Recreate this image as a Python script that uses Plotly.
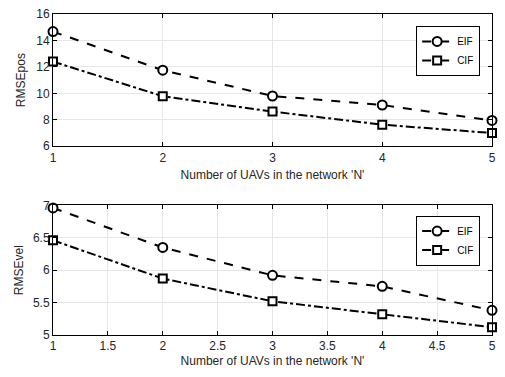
import plotly.graph_objects as go
from plotly.subplots import make_subplots

n_uavs = [1, 2, 3, 4, 5]
eif_pos = [14.67, 11.75, 9.8, 9.12, 7.95]
cif_pos = [12.4, 9.78, 8.62, 7.63, 7.0]
eif_vel = [6.96, 6.35, 5.92, 5.75, 5.38]
cif_vel = [6.46, 5.87, 5.52, 5.32, 5.12]

fig = make_subplots(rows=2, cols=1, vertical_spacing=0.0)

font = dict(family="Liberation Sans, Arial, sans-serif", size=11, color="#262626")

def add(x, y, name, dash, symbol, size, row, legend):
    fig.add_trace(go.Scatter(
        x=x, y=y, name=name, mode="lines+markers", cliponaxis=False,
        line=dict(color="black", width=2, dash=dash),
        marker=dict(symbol=symbol, size=size, color="white",
                    line=dict(color="black", width=2)),
        legend=legend, showlegend=True), row=row, col=1)

add(n_uavs, eif_pos, "EIF", "dash", "circle", 9, 1, "legend")
add(n_uavs, cif_pos, "CIF", "dashdot", "square", 8, 1, "legend")
add(n_uavs, eif_vel, "EIF", "dash", "circle", 9, 2, "legend2")
add(n_uavs, cif_vel, "CIF", "dashdot", "square", 8, 2, "legend2")

axcommon = dict(showline=True, linecolor="black", linewidth=1, mirror="ticks",
                ticks="inside", ticklen=4, tickcolor="black",
                showgrid=True, gridcolor="#e6e6e6", gridwidth=1,
                zeroline=False, tickfont=dict(size=12, color="#262626"))

fig.update_xaxes(**axcommon)
fig.update_yaxes(**axcommon)

xt = "Number of UAVs in the network 'N'"
tf = dict(size=12, color="#262626")
fig.update_xaxes(range=[0.9999, 5.0001], tickvals=[1, 2, 3, 4, 5], ticktext=["1", "2", "3", "4", "5"],
                 title=dict(text=xt, font=tf, standoff=6), row=1, col=1)
fig.update_xaxes(range=[0.9999, 5.0001], tickvals=[1, 1.5, 2, 2.5, 3, 3.5, 4, 4.5, 5],
                 ticktext=["1", "1.5", "2", "2.5", "3", "3.5", "4", "4.5", "5"],
                 title=dict(text=xt, font=tf, standoff=4), row=2, col=1)
fig.update_yaxes(range=[6, 16], tickvals=[6, 8, 10, 12, 14, 16], ticktext=["6", "8", "10", "12", "14", "16"],
                 title=dict(text="RMSEpos", font=tf, standoff=8), row=1, col=1)
fig.update_yaxes(range=[5, 7], tickvals=[5, 5.5, 6, 6.5, 7], ticktext=["5", "5.5", "6", "6.5", "7"],
                 title=dict(text="RMSEvel", font=tf, standoff=6), row=2, col=1)

fig.update_layout(
    width=505, height=377,
    margin=dict(l=53, r=13, t=7, b=42),
    paper_bgcolor="white", plot_bgcolor="white",
    font=font,
    xaxis=dict(domain=[0, 1]), xaxis2=dict(domain=[0, 1]),
    yaxis=dict(domain=[0.588, 1.0]),
    yaxis2=dict(domain=[0.0, 0.404]),
    legend=dict(x=0.973, y=0.963, xanchor="right", yanchor="top",
                bgcolor="white", bordercolor="black", borderwidth=1,
                font=dict(size=10, color="black"), itemwidth=30,
                tracegroupgap=0),
    legend2=dict(x=0.973, y=0.372, xanchor="right", yanchor="top",
                 bgcolor="white", bordercolor="black", borderwidth=1,
                 font=dict(size=10, color="black"), itemwidth=30,
                 tracegroupgap=0),
    showlegend=True,
)

fig.write_html("out.html", config={"displayModeBar": False},
               post_script="document.body.style.margin='0';document.body.style.overflow='hidden';")
